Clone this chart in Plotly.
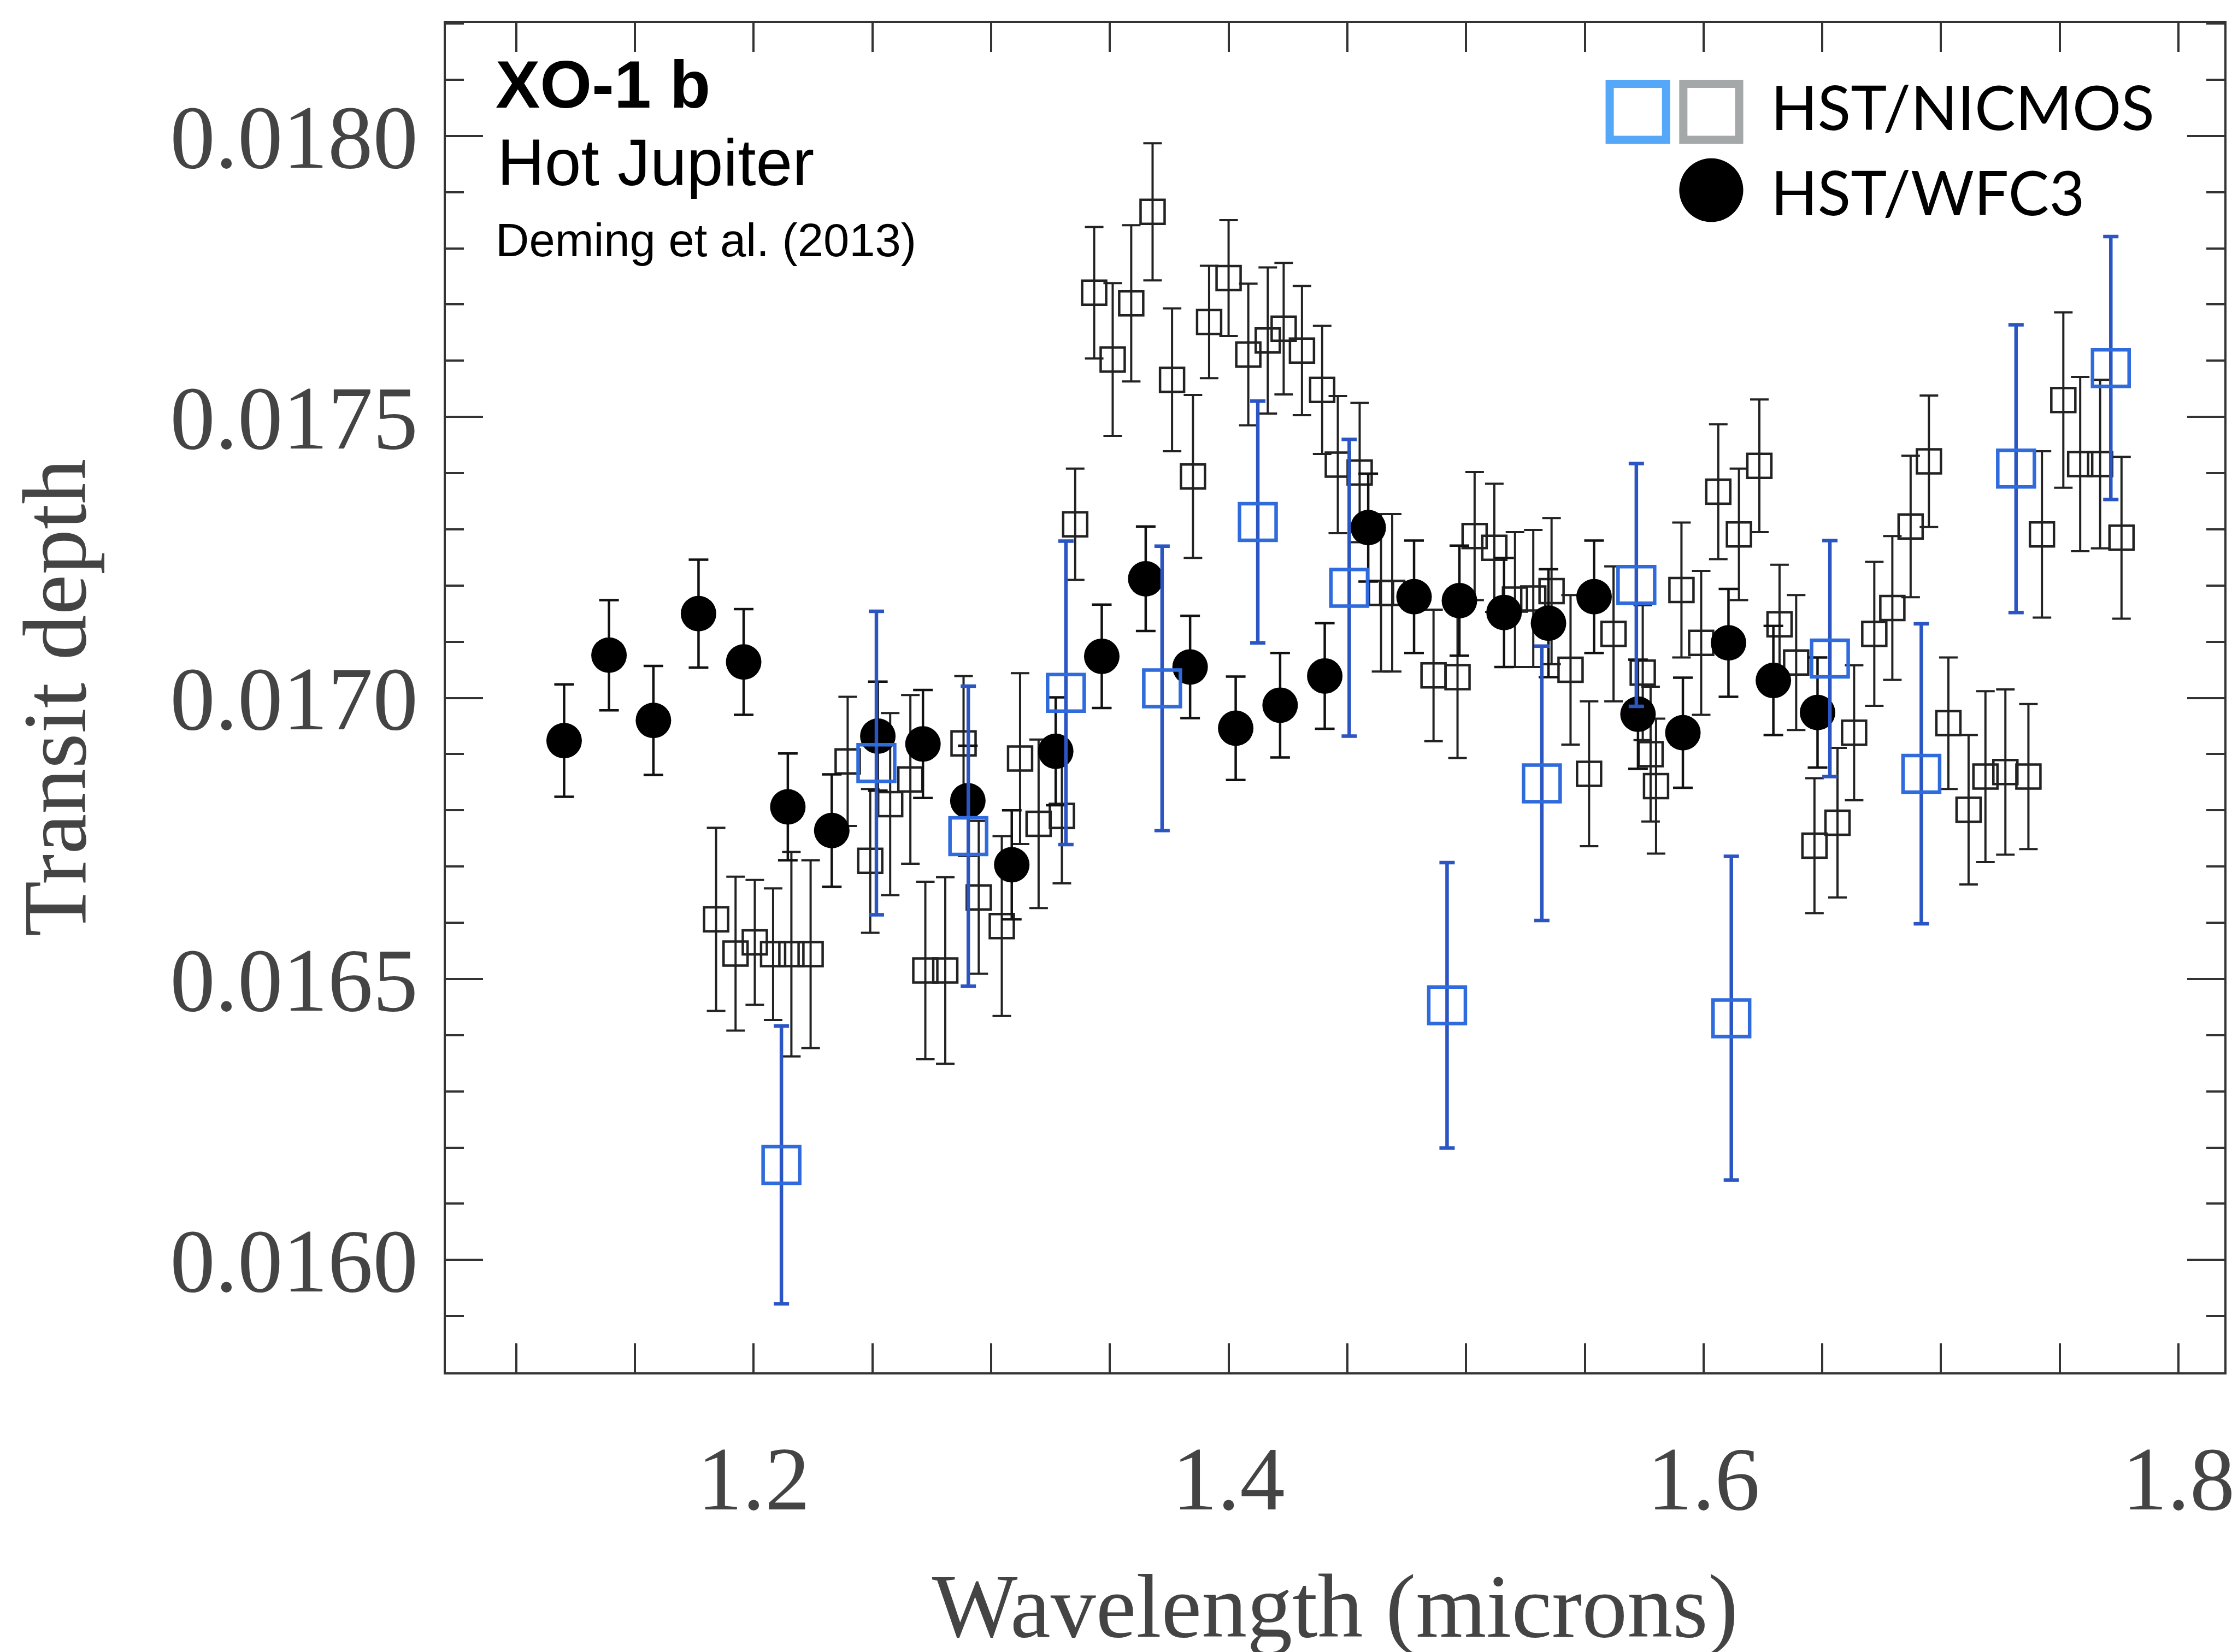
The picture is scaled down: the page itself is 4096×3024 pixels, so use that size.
import plotly.graph_objects as go

# ---------------- data ----------------
# HST/WFC3 (filled circles)
wfc3_x = [1.1202, 1.1391, 1.1578, 1.1768, 1.1958, 1.2144, 1.2329, 1.2523, 1.2713, 1.2902,
          1.3087, 1.3272, 1.3466, 1.3651, 1.3838, 1.4030, 1.4217, 1.4405, 1.4588, 1.4781,
          1.4972, 1.5160, 1.5347, 1.5539, 1.5724, 1.5913, 1.6105, 1.6294, 1.6480]
wfc3_y = [0.016924, 0.017076, 0.016960, 0.017150, 0.017064, 0.016806, 0.016764, 0.016932, 0.016918, 0.016817,
          0.016703, 0.016905, 0.017074, 0.017212, 0.017055, 0.016946, 0.016987, 0.017039, 0.017303, 0.017180,
          0.017173, 0.017152, 0.017133, 0.017180, 0.016971, 0.016938, 0.017098, 0.017031, 0.016974]
wfc3_err = [0.000100, 0.000098, 0.000097, 0.000096, 0.000094, 0.000095, 0.000100, 0.000097, 0.000096, 0.000098,
            0.000097, 0.000096, 0.000092, 0.000093, 0.000091, 0.000092, 0.000093, 0.000094, 0.000096, 0.000100,
            0.000098, 0.000097, 0.000096, 0.000100, 0.000097, 0.000098, 0.000096, 0.000097, 0.000098]

# HST/NICMOS, fine-resolution spectrum (small open squares)
nic_x = [1.1842, 1.1924, 1.2005, 1.2082, 1.2159, 1.2240, 1.2396, 1.2491, 1.2575, 1.2660,
         1.2723, 1.2807, 1.2884, 1.2948, 1.3045, 1.3122, 1.3200, 1.3298, 1.3354, 1.3434,
         1.3512, 1.3590, 1.3680, 1.3762, 1.3850, 1.3918, 1.4000, 1.4083, 1.4165, 1.4232,
         1.4309, 1.4394, 1.4460, 1.4552, 1.4642, 1.4689, 1.4863, 1.4964, 1.5036, 1.5119,
         1.5206, 1.5283, 1.5360, 1.5440, 1.5518, 1.5621, 1.5744, 1.5777, 1.5800, 1.5907,
         1.5990, 1.6062, 1.6149, 1.6235, 1.6320, 1.6390, 1.6467, 1.6564, 1.6634, 1.6719,
         1.6795, 1.6872, 1.6949, 1.7031, 1.7116, 1.7187, 1.7271, 1.7368, 1.7425, 1.7515,
         1.7586, 1.7670, 1.7760]
nic_y = [0.016606, 0.016545, 0.016565, 0.016544, 0.016544, 0.016544, 0.016887, 0.016710, 0.016811, 0.016855,
         0.016515, 0.016515, 0.016919, 0.016645, 0.016594, 0.016892, 0.016776, 0.016790, 0.017309, 0.017721,
         0.017602, 0.017702, 0.017865, 0.017566, 0.017394, 0.017669, 0.017747, 0.017611, 0.017636, 0.017657,
         0.017618, 0.017548, 0.017415, 0.017401, 0.017187, 0.017187, 0.017040, 0.017037, 0.017288, 0.017267,
         0.017175, 0.017177, 0.017190, 0.017050, 0.016865, 0.017114, 0.017045, 0.016900, 0.016843, 0.017192,
         0.017098, 0.017367, 0.017291, 0.017413, 0.017131, 0.017063, 0.016737, 0.016778, 0.016938, 0.017114,
         0.017160, 0.017305, 0.017421, 0.016955, 0.016801, 0.016860, 0.016868, 0.016860, 0.017291, 0.017530,
         0.017416, 0.017416, 0.017285]
nic_err = [0.000163, 0.000137, 0.000111, 0.000117, 0.000182, 0.000167, 0.000115, 0.000128, 0.000162, 0.000150,
           0.000158, 0.000166, 0.000120, 0.000136, 0.000160, 0.000152, 0.000150, 0.000120, 0.000099, 0.000117,
           0.000136, 0.000139, 0.000122, 0.000127, 0.000145, 0.000100, 0.000103, 0.000126, 0.000130, 0.000117,
           0.000115, 0.000114, 0.000122, 0.000124, 0.000140, 0.000140, 0.000117, 0.000144, 0.000114, 0.000114,
           0.000120, 0.000122, 0.000130, 0.000133, 0.000129, 0.000120, 0.000120, 0.000120, 0.000120, 0.000120,
           0.000128, 0.000120, 0.000117, 0.000118, 0.000106, 0.000120, 0.000120, 0.000133, 0.000120, 0.000128,
           0.000128, 0.000126, 0.000117, 0.000117, 0.000133, 0.000152, 0.000147, 0.000129, 0.000148, 0.000156,
           0.000155, 0.000150, 0.000144]

# HST/NICMOS, binned spectrum (large blue open squares)
nicb_x = [1.2117, 1.2517, 1.2904, 1.3315, 1.3720, 1.4123, 1.4508, 1.4920, 1.5319, 1.5717,
          1.6117, 1.6532, 1.6917, 1.7316, 1.7715]
nicb_y = [0.016169, 0.016884, 0.016754, 0.017009, 0.017017, 0.017313, 0.017196, 0.016453, 0.016848, 0.017201,
          0.016430, 0.017070, 0.016865, 0.017408, 0.017587]
nicb_err = [0.000247, 0.000270, 0.000267, 0.000270, 0.000253, 0.000215, 0.000264, 0.000254, 0.000244, 0.000216,
            0.000288, 0.000210, 0.000267, 0.000256, 0.000234]

x_range = [1.0704, 1.8193]
y_range = [0.0158, 0.018201]

# ---------------- figure ----------------
W, H = 4096, 3024
ML, MR, MT, MB = 808, 33, 34, 520

fig = go.Figure()

fig.add_trace(go.Scatter(
    x=nic_x, y=nic_y, mode="markers", name="HST/NICMOS",
    marker=dict(symbol="square-open", size=44, color="#222222", line=dict(width=4.5, color="#222222")),
    error_y=dict(type="data", array=nic_err, color="#222222", thickness=4, width=17),
))
fig.add_trace(go.Scatter(
    x=wfc3_x, y=wfc3_y, mode="markers", name="HST/WFC3",
    marker=dict(symbol="circle", size=65, color="#000000", line=dict(width=0)),
    error_y=dict(type="data", array=wfc3_err, color="#111111", thickness=4.5, width=18),
))
fig.add_trace(go.Scatter(
    x=nicb_x, y=nicb_y, mode="markers", name="HST/NICMOS (binned)",
    marker=dict(symbol="square-open", size=67, color="#2F6BDC", line=dict(width=6.5, color="#2F6BDC")),
    error_y=dict(type="data", array=nicb_err, color="#2A55C2", thickness=6.5, width=14),
))

tick_font = dict(family="Liberation Serif", size=165, color="#444444")
axis_common = dict(
    showline=True, linecolor="#333333", linewidth=4, mirror="ticks",
    ticks="inside", tickcolor="#333333", tickwidth=4,
    showgrid=False, zeroline=False, tickfont=tick_font, automargin=False,
)

fig.update_layout(
    width=W, height=H,
    margin=dict(l=ML, r=MR, t=MT, b=MB, pad=0, autoexpand=False),
    paper_bgcolor="white", plot_bgcolor="white",
    showlegend=False,
    xaxis=dict(
        range=x_range, tickmode="linear", tick0=1.2, dtick=0.2, tickformat=".1f",
        ticklen=53, ticklabelstandoff=49,
        minor=dict(tick0=1.2, dtick=0.05, ticks="inside", ticklen=53, tickwidth=4, tickcolor="#333333", showgrid=False),
        title=dict(text="Wavelength (microns)", font=dict(family="Liberation Serif", size=166, color="#444444"), standoff=112),
        **axis_common,
    ),
    yaxis=dict(
        range=y_range, tickmode="linear", tick0=0.0160, dtick=0.0005, tickformat=".4f",
        ticklen=68, ticklabelstandoff=14,
        minor=dict(tick0=0.0160, dtick=0.0001, ticks="inside", ticklen=33, tickwidth=4, tickcolor="#333333", showgrid=False),
        title=dict(text="Transit depth", font=dict(family="Liberation Serif", size=166, color="#444444"), standoff=146),
        **axis_common,
    ),
)

# ---------------- in-plot labels ----------------
fig.add_annotation(text="<b>XO-1 b</b>", xref="paper", yref="paper", x=0.0274, y=0.9542,
                   xanchor="left", yanchor="middle", showarrow=False,
                   font=dict(family="Liberation Sans", size=122, color="black"))
fig.add_annotation(text="Hot Jupiter", xref="paper", yref="paper", x=0.0284, y=0.8967,
                   xanchor="left", yanchor="middle", showarrow=False,
                   font=dict(family="Liberation Sans", size=120, color="black"))
fig.add_annotation(text="Deming et al. (2013)", xref="paper", yref="paper", x=0.0274, y=0.8392,
                   xanchor="left", yanchor="middle", showarrow=False,
                   font=dict(family="Liberation Sans", size=85, color="black"))

# ---------------- legend (custom) ----------------
fig.add_shape(type="rect", xref="paper", yref="paper", x0=0.6544, x1=0.6861, y0=0.9134, y1=0.9549,
              line=dict(color="#55A8F8", width=15), fillcolor="rgba(0,0,0,0)")
fig.add_shape(type="rect", xref="paper", yref="paper", x0=0.6958, x1=0.7272, y0=0.9134, y1=0.9549,
              line=dict(color="#A5A8A8", width=15), fillcolor="rgba(0,0,0,0)")
fig.add_shape(type="circle", xref="paper", yref="paper", x0=0.6935, x1=0.7295, y0=0.8525, y1=0.8997,
              line=dict(color="black", width=0), fillcolor="black")
fig.add_annotation(text="HST/NICMOS", xref="paper", yref="paper", x=0.7443, y=0.9382,
                   xanchor="left", yanchor="middle", showarrow=False,
                   font=dict(family="Lato", size=112, color="black"))
fig.add_annotation(text="HST/WFC3", xref="paper", yref="paper", x=0.7443, y=0.8751,
                   xanchor="left", yanchor="middle", showarrow=False,
                   font=dict(family="Lato", size=112, color="black"))

fig.write_html("out.html")
